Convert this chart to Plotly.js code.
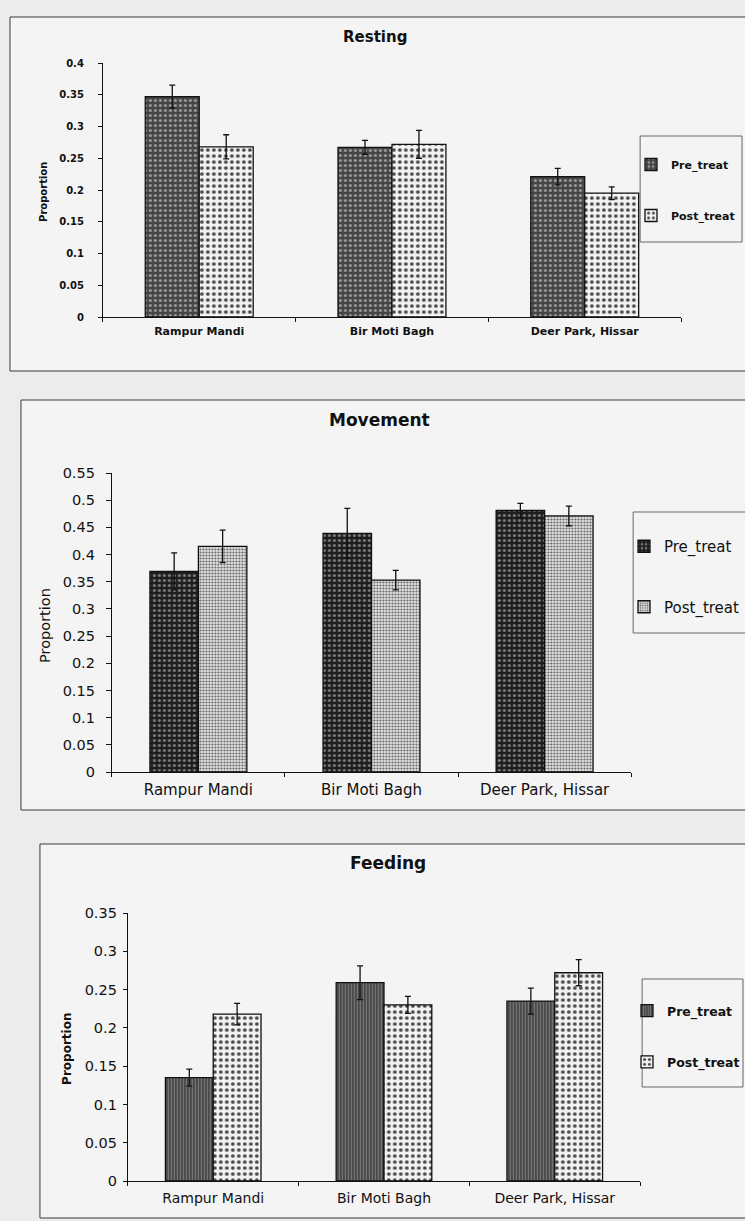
<!DOCTYPE html>
<html>
<head>
<meta charset="utf-8">
<script src="https://cdn.plot.ly/plotly-3.0.1.min.js"></script>
<style>
  html, body { margin: 0; padding: 0; background: #ececec; }
  #chart { width: 745px; height: 1221px; }
</style>
</head>
<body>
<div id="chart"></div>
<script>
// Study sites (categories) and the two treatment series
const sites = ['Rampur Mandi', 'Bir Moti Bagh', 'Deer Park, Hissar'];
const seriesNames = ['Pre_treat', 'Post_treat'];
const panelTitles = ['Resting', 'Movement', 'Feeding'];
const axisLabel = 'Proportion';

// Resting: mean proportion and standard error
const restingPre = [0.347, 0.267, 0.221];
const restingPreErr = [0.018, 0.011, 0.013];
const restingPost = [0.268, 0.272, 0.195];
const restingPostErr = [0.019, 0.022, 0.010];

// Movement
const movementPre = [0.369, 0.439, 0.481];
const movementPreErr = [0.034, 0.046, 0.013];
const movementPost = [0.415, 0.353, 0.471];
const movementPostErr = [0.030, 0.018, 0.018];

// Feeding
const feedingPre = [0.135, 0.259, 0.235];
const feedingPreErr = [0.011, 0.022, 0.017];
const feedingPost = [0.218, 0.230, 0.272];
const feedingPostErr = [0.014, 0.011, 0.017];

// Value axis extents
const yMax = [0.4, 0.55, 0.35];
const yStep = 0.05;

// ---- page geometry helpers (pixel -> paper fraction) ----
const W = 745, H = 1221;
const fx = x => x / W;
const fy = y => 1 - y / H;
const FONT = 'DejaVu Sans, Liberation Sans, Arial, sans-serif';
const INK = '#111';

// Per-panel styling
const panels = [
  { plotX: [103, 682], plotY: [63, 317], frame: [10, 17, 750, 371],
    title: { x: 376, y: 37, size: 15 }, ylab: { x: 44, y: 192, size: 10, weight: 'bold' },
    tickFont: { size: 10, weight: 'bold' }, catFont: { size: 11, weight: 'bold' },
    tickStandoff: 12, ticklen: 4,
    legend: { left: 631, top: 150, size: 11, weight: 'bold', gap: 32, box: [641, 136, 743, 242] },
    pre: { bg: '#454545', fg: '#9a9a9a', shape: '.', size: 5, solidity: 0.3 },
    post: { bg: '#f2f2f2', fg: '#4a4a4a', shape: '.', size: 6, solidity: 0.3 } },
  { plotX: [112, 632], plotY: [473, 772], frame: [21, 400, 750, 810],
    title: { x: 380, y: 420, size: 17 }, ylab: { x: 45, y: 625, size: 14.5, weight: 'normal' },
    tickFont: { size: 14.5, weight: 'normal' }, catFont: { size: 15, weight: 'normal' },
    tickStandoff: 8, ticklen: 5,
    legend: { left: 624, top: 530, size: 15, weight: 'normal', gap: 38, box: [634, 512, 750, 633] },
    pre: { bg: '#1e1e1e', fg: '#7a7a7a', shape: '.', size: 5, solidity: 0.3 },
    post: { bg: '#e2e2e2', fg: '#5a5a5a', shape: '.', size: 3, solidity: 0.35 } },
  { plotX: [128, 641], plotY: [913, 1181], frame: [40, 844, 750, 1218],
    title: { x: 389, y: 863, size: 17 }, ylab: { x: 67, y: 1049, size: 12, weight: 'bold' },
    tickFont: { size: 14.5, weight: 'normal' }, catFont: { size: 14, weight: 'normal' },
    tickStandoff: 3, ticklen: 4,
    legend: { left: 628, top: 996, size: 12.5, weight: 'bold', gap: 32, box: [643, 979, 744, 1087] },
    pre: { bg: '#4a4a4a', fg: '#7c7c7c', shape: '|', size: 3, solidity: 0.35 },
    post: { bg: '#f2f2f2', fg: '#4a4a4a', shape: '.', size: 6, solidity: 0.3 } }
];

const panelData = [
  [[restingPre, restingPreErr], [restingPost, restingPostErr]],
  [[movementPre, movementPreErr], [movementPost, movementPostErr]],
  [[feedingPre, feedingPreErr], [feedingPost, feedingPostErr]]
];

const traces = [];
const layout = {
  width: W, height: H,
  margin: { l: 0, r: 0, t: 0, b: 0 },
  paper_bgcolor: '#ececec',
  plot_bgcolor: 'rgba(0,0,0,0)',
  barmode: 'group',
  bargap: 0.44,
  bargroupgap: 0,
  showlegend: true,
  shapes: [],
  annotations: [],
  font: { family: FONT, color: INK }
};

panels.forEach((p, i) => {
  const n = i + 1;
  const xa = n === 1 ? 'x' : 'x' + n;
  const ya = n === 1 ? 'y' : 'y' + n;
  const legendId = n === 1 ? 'legend' : 'legend' + n;

  panelData[i].forEach(([vals, errs], s) => {
    const pat = s === 0 ? p.pre : p.post;
    traces.push({
      type: 'bar',
      name: seriesNames[s],
      x: sites,
      y: vals,
      xaxis: xa,
      yaxis: ya,
      legend: legendId,
      legendgroup: 'p' + n + 's' + s,
      marker: {
        color: pat.bg,
        line: { color: INK, width: 1.3 },
        pattern: { shape: pat.shape, bgcolor: pat.bg, fgcolor: pat.fg,
                   size: pat.size, solidity: pat.solidity, fillmode: 'replace' }
      },
      error_y: { type: 'data', array: errs, visible: true, color: INK, thickness: 1.3, width: 3 },
      hoverinfo: 'x+y+name'
    });
  });

  layout['xaxis' + (n === 1 ? '' : n)] = {
    domain: [fx(p.plotX[0]), fx(p.plotX[1])],
    anchor: ya,
    type: 'category',
    showline: true, linecolor: INK, linewidth: 1,
    ticks: 'outside', tickson: 'boundaries', ticklen: 4, tickcolor: INK,
    ticklabelstandoff: 4,
    tickfont: { family: FONT, size: p.catFont.size, weight: p.catFont.weight, color: INK },
    showgrid: false, zeroline: false, fixedrange: true
  };
  layout['yaxis' + (n === 1 ? '' : n)] = {
    domain: [fy(p.plotY[1]), fy(p.plotY[0])],
    anchor: xa,
    range: [0, yMax[i]],
    dtick: yStep, tick0: 0,
    showline: true, linecolor: INK, linewidth: 1,
    ticks: 'outside', ticklen: p.ticklen, tickcolor: INK,
    ticklabelstandoff: p.tickStandoff,
    tickfont: { family: FONT, size: p.tickFont.size, weight: p.tickFont.weight, color: INK },
    showgrid: false, zeroline: false, fixedrange: true
  };

  layout[legendId] = {
    x: fx(p.legend.left), y: fy(p.legend.top),
    xanchor: 'left', yanchor: 'top',
    bgcolor: 'rgba(0,0,0,0)', borderwidth: 0,
    traceorder: 'grouped', tracegroupgap: p.legend.gap,
    font: { family: FONT, size: p.legend.size, weight: p.legend.weight, color: INK }
  };

  // chart frame
  const [x0, y0, x1, y1] = p.frame;
  layout.shapes.push({
    type: 'rect', xref: 'paper', yref: 'paper', layer: 'below',
    x0: fx(x0), x1: fx(x1), y0: fy(y1), y1: fy(y0),
    line: { color: '#3a3a3a', width: 1 }, fillcolor: '#f4f4f4'
  });
  // legend box
  const [lx0, ly0, lx1, ly1] = p.legend.box;
  layout.shapes.push({
    type: 'rect', xref: 'paper', yref: 'paper', layer: 'below',
    x0: fx(lx0), x1: fx(lx1), y0: fy(ly1), y1: fy(ly0),
    line: { color: '#666', width: 1 }, fillcolor: 'rgba(0,0,0,0)'
  });

  // panel title
  layout.annotations.push({
    xref: 'paper', yref: 'paper', x: fx(p.title.x), y: fy(p.title.y),
    xanchor: 'center', yanchor: 'middle', showarrow: false,
    text: panelTitles[i],
    font: { family: FONT, size: p.title.size, weight: 'bold', color: INK }
  });
  // value axis label
  layout.annotations.push({
    xref: 'paper', yref: 'paper', x: fx(p.ylab.x), y: fy(p.ylab.y),
    xanchor: 'center', yanchor: 'middle', showarrow: false, textangle: -90,
    text: axisLabel,
    font: { family: FONT, size: p.ylab.size, weight: p.ylab.weight, color: INK }
  });
});

Plotly.newPlot('chart', traces, layout, { displayModeBar: false, staticPlot: true });
</script>
</body>
</html>
